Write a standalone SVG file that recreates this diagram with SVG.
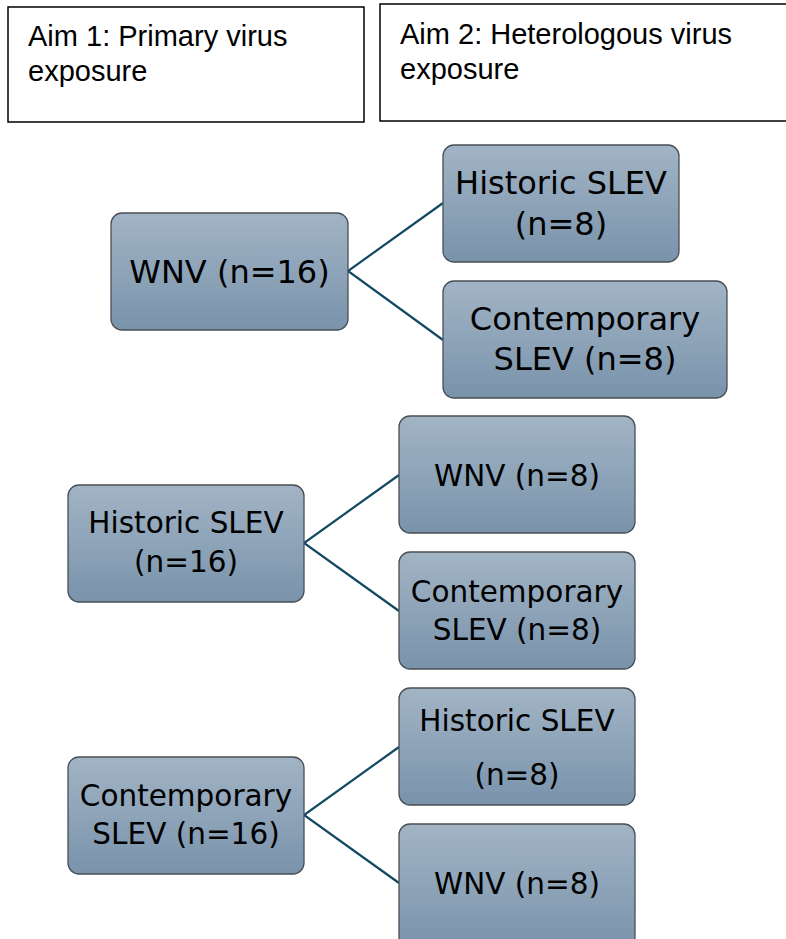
<svg xmlns="http://www.w3.org/2000/svg" width="786" height="939" viewBox="0 0 786 939">
<style>
.aim{fill:#fff;stroke:#000;stroke-width:1.5}
.aimt{font-family:"Liberation Sans",Arial,sans-serif;font-size:29px;fill:#000}
.box{fill:url(#g);stroke:#4a4f55;stroke-width:1.3}
.t{font-family:"DejaVu Sans",sans-serif;fill:#000;text-anchor:middle}
.big{font-size:32px}
.sm{font-size:29.5px}
.c{stroke:#134a63;stroke-width:2.2;fill:none}
</style>
<defs>
<linearGradient id="g" x1="0" y1="0" x2="0" y2="1">
<stop offset="0" stop-color="#a2b4c5"/>
<stop offset="1" stop-color="#7993ab"/>
</linearGradient>
</defs>
<g id="aim1"><rect class="aim" x="8" y="7" width="356" height="115"/>
<text class="aimt" x="28" y="46">Aim 1: Primary virus</text>
<text class="aimt" x="28" y="81">exposure</text></g>
<g id="aim2"><rect class="aim" x="380" y="4" width="410" height="117"/>
<text class="aimt" x="400" y="44">Aim 2: Heterologous virus</text>
<text class="aimt" x="400" y="79">exposure</text></g>
<g id="connectors">
<polyline class="c" points="443,203 348,271 443,340"/>
<polyline class="c" points="399,475 304,543 399,611"/>
<polyline class="c" points="399,747 304,815 399,883"/>
</g>
<g id="wnv16"><rect class="box" x="111" y="213" width="237" height="117" rx="11"/>
<text class="t big" x="229.5" y="283">WNV (n=16)</text></g>
<g id="hist8a"><rect class="box" x="443" y="145" width="236" height="117" rx="11"/>
<text class="t big" x="561" y="194">Historic SLEV</text>
<text class="t big" x="561" y="235">(n=8)</text></g>
<g id="cont8a"><rect class="box" x="443" y="281" width="284" height="117" rx="11"/>
<text class="t big" x="585" y="330">Contemporary</text>
<text class="t big" x="585" y="370">SLEV (n=8)</text></g>
<g id="hist16"><rect class="box" x="68" y="485" width="236" height="117" rx="11"/>
<text class="t sm" x="186" y="533">Historic SLEV</text>
<text class="t sm" x="186" y="572">(n=16)</text></g>
<g id="wnv8a"><rect class="box" x="399" y="416" width="236" height="117" rx="11"/>
<text class="t sm" x="517" y="486">WNV (n=8)</text></g>
<g id="cont8b"><rect class="box" x="399" y="552" width="236" height="117" rx="11"/>
<text class="t sm" x="517" y="602">Contemporary</text>
<text class="t sm" x="517" y="640">SLEV (n=8)</text></g>
<g id="cont16"><rect class="box" x="68" y="757" width="236" height="117" rx="11"/>
<text class="t sm" x="186" y="806">Contemporary</text>
<text class="t sm" x="186" y="844">SLEV (n=16)</text></g>
<g id="hist8b"><rect class="box" x="399" y="688" width="236" height="117" rx="11"/>
<text class="t sm" x="517" y="731">Historic SLEV</text>
<text class="t sm" x="517" y="785">(n=8)</text></g>
<g id="wnv8b"><rect class="box" x="399" y="824" width="236" height="125" rx="11"/>
<text class="t sm" x="517" y="894">WNV (n=8)</text></g>
</svg>
